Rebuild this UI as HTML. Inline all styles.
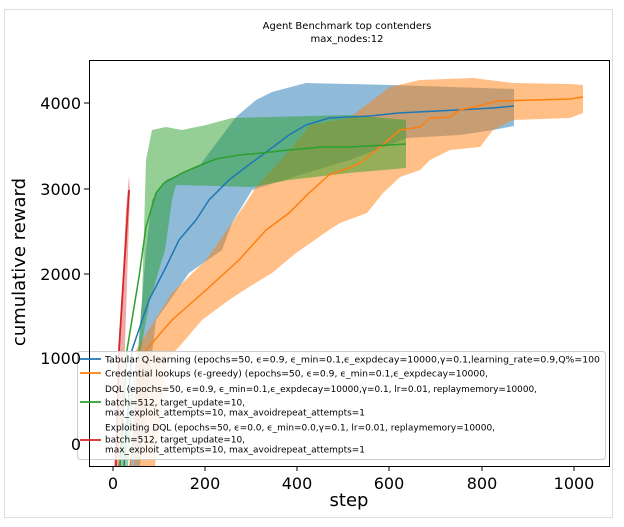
<!DOCTYPE html>
<html><head><meta charset="utf-8"><style>
body{margin:0;background:#fff;}
svg{display:block;font-family:"DejaVu Sans","Liberation Sans",sans-serif;}
</style></head><body>
<svg width="624" height="527" viewBox="0 0 624 527" xmlns="http://www.w3.org/2000/svg">
<rect x="0" y="0" width="624" height="527" fill="#fff"/>
<rect x="4.5" y="9.5" width="608" height="508" fill="#fff" stroke="#ddd" stroke-width="1"/>
<text x="347" y="29" font-size="10" text-anchor="middle">Agent Benchmark top contenders</text>
<text x="347" y="42" font-size="10" text-anchor="middle">max_nodes:12</text>
<polygon fill="#1f77b4" fill-opacity="0.5" points="130,466 136,380 142,300 146,250 152,200 166,180 200,165 236,117 256,100 272,92 306,83 349,84 390,85 514,89 514,126 493,130 460,135 407,138 350,160 300,175 252,190 232,223 222,250 189,273 156,320 149,380 140,466"/>
<polygon fill="#ff7f0e" fill-opacity="0.5" points="134,466 136,350 172,293 206,260 246,203 256,187 290,150 310,125 349,118 390,87 420,80 473,78 513,83 570,84 583,85 583,113 570,118 513,120 493,130 480,147 450,150 430,160 420,170 400,177 383,193 367,213 340,223 329,230 296,253 272,273 249,287 229,300 202,320 179,347 166,360 155,466"/>
<polygon fill="#2ca02c" fill-opacity="0.5" points="118,466 130,400 138,350 142,300 146,160 152,130 166,127 182,130 206,125 232,118 349,115 406,120 406,168 349,173 289,180 252,187 176,185 172,200 165,250 150,300 135,380 128,466"/>
<polygon fill="#d62728" fill-opacity="0.4" points="114,466 126,210 129,176 130,192 121,466"/>
<polyline fill="none" stroke="#1f77b4" stroke-width="1.5" points="124,466 132,350 149,300 166,267 179,240 196,220 209,200 229,180 246,167 269,150 289,135 306,125 329,118 349,117 370,116 398,113 457,110 493,108 514,106"/>
<polyline fill="none" stroke="#ff7f0e" stroke-width="1.5" points="130,466 146,350 172,320 206,290 239,260 266,230 289,213 309,193 329,175 349,168 360,163 380,147 400,130 420,127 430,118 450,117 460,110 483,105 497,101 570,99 583,97"/>
<polyline fill="none" stroke="#2ca02c" stroke-width="1.5" points="120,466 127,350 139,277 146,227 156,193 164,183 182,173 196,167 216,159 239,155 262,153 289,150 322,147 349,147 406,144"/>
<polyline fill="none" stroke="#d62728" stroke-width="1.8" points="116,466 119,350 129,190"/>
<rect x="77.5" y="351.5" width="528" height="108" rx="3" fill="#fff" fill-opacity="0.85" stroke="#ccc"/>
<rect x="89.5" y="60.5" width="520" height="406" fill="none" stroke="#000" stroke-width="1"/>
<g stroke="#000" stroke-width="1">
<line x1="113" y1="466" x2="113" y2="471"/><line x1="205" y1="466" x2="205" y2="471"/>
<line x1="297" y1="466" x2="297" y2="471"/><line x1="389" y1="466" x2="389" y2="471"/>
<line x1="482" y1="466" x2="482" y2="471"/><line x1="574" y1="466" x2="574" y2="471"/>
<line x1="84" y1="103" x2="89" y2="103"/><line x1="84" y1="189" x2="89" y2="189"/>
<line x1="84" y1="274" x2="89" y2="274"/>
</g>
<g font-size="16" text-anchor="middle">
<text x="113" y="489">0</text><text x="205" y="489">200</text><text x="297" y="489">400</text>
<text x="389" y="489">600</text><text x="482" y="489">800</text><text x="574" y="489">1000</text>
</g>
<g font-size="16" text-anchor="end">
<text x="81" y="109">4000</text><text x="81" y="195">3000</text><text x="81" y="280">2000</text>
<text x="81" y="364">1000</text><text x="81" y="450">0</text>
</g>
<text x="349" y="506" font-size="18" text-anchor="middle">step</text>
<text transform="translate(25,262) rotate(-90)" font-size="18" text-anchor="middle">cumulative reward</text>
<g stroke-width="1.8">
<line x1="80" y1="359" x2="101" y2="359" stroke="#1f77b4"/>
<line x1="80" y1="373" x2="101" y2="373" stroke="#ff7f0e"/>
<line x1="80" y1="402" x2="101" y2="402" stroke="#2ca02c"/>
<line x1="80" y1="440" x2="101" y2="440" stroke="#d62728"/>
</g>
<g font-size="9">
<text x="105" y="362.5" textLength="495" lengthAdjust="spacingAndGlyphs">Tabular Q-learning (epochs=50, ϵ=0.9, ϵ_min=0.1,ϵ_expdecay=10000,γ=0.1,learning_rate=0.9,Q%=100</text>
<text x="105" y="376.5" textLength="383" lengthAdjust="spacingAndGlyphs">Credential lookups (ϵ-greedy) (epochs=50, ϵ=0.9, ϵ_min=0.1,ϵ_expdecay=10000,</text>
<text x="105" y="392" textLength="432" lengthAdjust="spacingAndGlyphs">DQL (epochs=50, ϵ=0.9, ϵ_min=0.1,ϵ_expdecay=10000,γ=0.1, lr=0.01, replaymemory=10000,</text>
<text x="105" y="405.5" textLength="140" lengthAdjust="spacingAndGlyphs">batch=512, target_update=10,</text>
<text x="105" y="415.5" textLength="260" lengthAdjust="spacingAndGlyphs">max_exploit_attempts=10, max_avoidrepeat_attempts=1</text>
<text x="105" y="430.5" textLength="390" lengthAdjust="spacingAndGlyphs">Exploiting DQL (epochs=50, ϵ=0.0, ϵ_min=0.0,γ=0.1, lr=0.01, replaymemory=10000,</text>
<text x="105" y="442.5" textLength="140" lengthAdjust="spacingAndGlyphs">batch=512, target_update=10,</text>
<text x="105" y="452.5" textLength="260" lengthAdjust="spacingAndGlyphs">max_exploit_attempts=10, max_avoidrepeat_attempts=1</text>
</g>
</svg>
</body></html>
